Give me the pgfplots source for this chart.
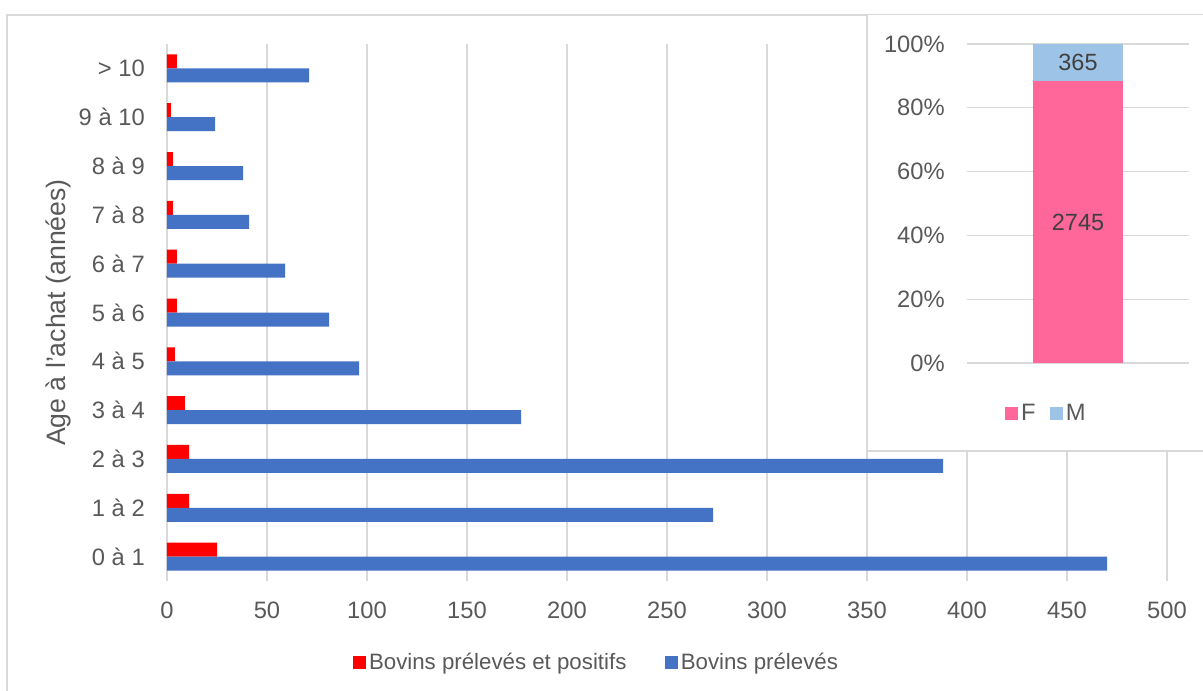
\documentclass[border=0pt]{standalone}
\usepackage{fontspec}
\setmainfont{Liberation Sans}
\usepackage{pgfplots}
\pgfplotsset{compat=1.18}
\definecolor{gridgray}{HTML}{D9D9D9}
\definecolor{textgray}{HTML}{595959}
\definecolor{labgray}{HTML}{404040}
\definecolor{barred}{HTML}{FF0000}
\definecolor{barblue}{HTML}{4472C4}
\definecolor{pinkF}{HTML}{FF6699}
\definecolor{blueM}{HTML}{9DC3E6}
\begin{document}
\begin{tikzpicture}
\useasboundingbox (0pt,0pt) rectangle (902.25pt,517.5pt);
\fill[white] (0pt,0pt) rectangle (902.25pt,517.5pt);
\draw[gridgray, line width=1.2pt] (5.25pt,-10pt) -- (5.25pt,506.25pt) -- (915pt,506.25pt);
% main chart
\begin{axis}[
  at={(125.25pt,81.75pt)}, anchor=south west,
  scale only axis, width=750pt, height=402.75pt,
  xmin=0, xmax=500, ymin=-0.5, ymax=10.5,
  xtick={0,50,...,500}, ytick={0,...,10},
  yticklabels={0 à 1, 1 à 2, 2 à 3, 3 à 4, 4 à 5, 5 à 6, 6 à 7, 7 à 8, 8 à 9, 9 à 10, > 10},
  xmajorgrids, major grid style={gridgray, line width=1pt},
  axis line style={draw=none}, major tick length=0pt,
  /pgf/number format/assume math mode=true,
  tick label style={font=\fontsize{17.8}{21}\selectfont, text=textgray},
  xticklabel style={inner sep=0pt, yshift=-15.75pt},
  yticklabel style={inner sep=0pt, xshift=-16.5pt},
  ylabel={Age à l'achat (années)},
  every axis y label/.style={at={(axis description cs:-0.109,0.5)}, anchor=center, rotate=90, font=\fontsize{20}{24}\selectfont, text=textgray},
  xbar, bar width=10.5pt,
  legend image code/.code={\fill[#1] (0pt,-4.9pt) rectangle (9.75pt,4.9pt);},
  legend columns=2,
  legend style={at={(axis description cs:0.43,-0.151)}, anchor=center, draw=none, fill=none,
    font=\fontsize{16.7}{20}\selectfont, text=textgray,
    nodes={inner sep=2pt},
    /tikz/every even column/.append style={column sep=27pt}},
]
\addplot[fill=barred, draw=none, bar shift=5.25pt] coordinates {
(25,0) (11,1) (11,2) (9,3) (4,4) (5,5) (5,6) (3,7) (3,8) (2,9) (5,10)};
\addlegendentry{Bovins prélevés et positifs}
\addplot[fill=barblue, draw=none, bar shift=-5.25pt] coordinates {
(470,0) (273,1) (388,2) (177,3) (96,4) (81,5) (59,6) (41,7) (38,8) (24,9) (71,10)};
\addlegendentry{Bovins prélevés}
\end{axis}
% inset box
\fill[white] (650.25pt,179.25pt) rectangle (915pt,506.25pt);
\draw[gridgray, line width=1.2pt] (650.25pt,506.25pt) -- (650.25pt,179.25pt) -- (915pt,179.25pt);
\begin{axis}[
  at={(725.25pt,245.25pt)}, anchor=south west,
  scale only axis, width=166.5pt, height=239.25pt,
  xmin=-1, xmax=1, ymin=0, ymax=3110,
  xtick=\empty,
  ytick={0,622,1244,1866,2488,3110},
  yticklabels={0\%,20\%,40\%,60\%,80\%,100\%},
  ymajorgrids, major grid style={gridgray, line width=1pt},
  axis line style={draw=none}, major tick length=0pt,
  tick label style={font=\fontsize{17.8}{21}\selectfont, text=textgray},
  yticklabel style={inner sep=0pt, xshift=-16.5pt},
  ybar stacked, bar width=67.5pt,
  point meta=explicit symbolic,
  nodes near coords,
  nodes near coords style={font=\fontsize{17.6}{21}\selectfont, text=labgray},
  legend image code/.code={\fill[#1] (0pt,-4.9pt) rectangle (9.75pt,4.9pt);},
  legend columns=2,
  legend style={at={(axis description cs:0.36,-0.157)}, anchor=center, draw=none, fill=none,
    font=\fontsize{17.8}{21}\selectfont, text=textgray,
    nodes={inner sep=2pt},
    /tikz/every even column/.append style={column sep=9pt}},
]
\addplot[fill=pinkF, draw=none] coordinates {(0,2745) [2745]};
\addlegendentry{F}
\addplot[fill=blueM, draw=none] coordinates {(0,365) [365]};
\addlegendentry{M}
\end{axis}
\end{tikzpicture}
\end{document}
